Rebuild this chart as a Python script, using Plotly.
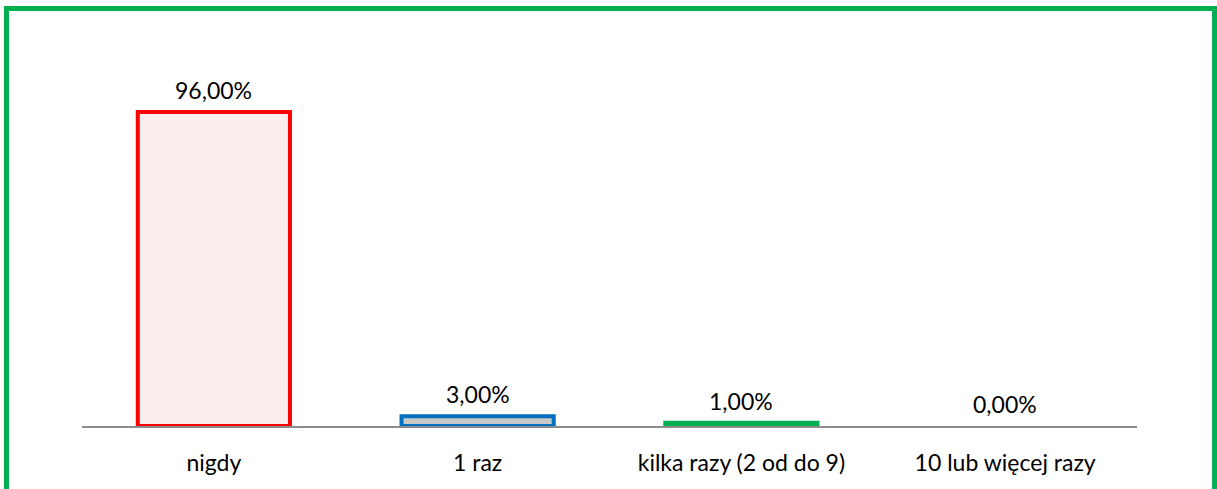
import plotly.graph_objects as go

categories = ["nigdy", "1 raz", "kilka razy (2 od do 9)", "10 lub więcej razy"]
values = [96.0, 3.0, 1.0, 0.0]
labels = ["96,00%", "3,00%", "1,00%", "0,00%"]
fill_colors = ["#F9ECEC", "#C9C9C9", "#00B050", "#FFFFFF"]
line_colors = ["#FF0000", "#0070C0", "#00B050", "#FFFFFF"]

font_family = "Lato, 'Open Sans', sans-serif"

fig = go.Figure(go.Bar(
    x=categories,
    y=values,
    marker=dict(color=fill_colors, line=dict(color=line_colors, width=4)),
    width=0.577,
    cliponaxis=False,
))

for cat, val, lab in zip(categories, values, labels):
    fig.add_annotation(x=cat, y=val, text=lab, showarrow=False,
                       yanchor="bottom", yshift=6,
                       font=dict(size=23, color="#000000", family=font_family))

fig.update_layout(
    width=1217, height=489,
    margin=dict(l=82, r=80, t=99, b=63),
    paper_bgcolor="white", plot_bgcolor="white",
    showlegend=False,
    font=dict(family=font_family, size=23, color="#000000"),
    xaxis=dict(showline=True, linecolor="#8C8C8C", linewidth=2, showgrid=False,
               ticks="", ticklabelstandoff=15, tickfont=dict(size=23)),
    yaxis=dict(range=[0, 100], visible=False, showgrid=False, zeroline=False),
    shapes=[dict(type="rect", xref="paper", yref="paper",
                 x0=-0.0716, x1=1.0735, y0=-0.25, y1=1.2768,
                 line=dict(color="#00B050", width=5), fillcolor="rgba(0,0,0,0)", layer="above")],
)

fig.write_html("out.html", config={"displayModeBar": False},
               post_script="document.body.style.margin='0';")
